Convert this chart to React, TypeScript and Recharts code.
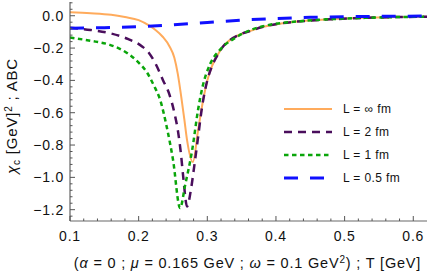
import React from 'react';
import { LineChart, Line, XAxis, YAxis, Legend } from 'recharts';

// T [GeV] samples and chi_c values, one pair of arrays per L
const tInf = [0.1, 0.13, 0.16, 0.18, 0.2, 0.215, 0.225, 0.235, 0.245, 0.252, 0.257, 0.262, 0.2665, 0.2705, 0.279, 0.2865, 0.294, 0.3, 0.307, 0.314, 0.323, 0.333, 0.348, 0.362, 0.38, 0.41, 0.44, 0.48, 0.53, 0.58, 0.62];
const chiInf = [0.022, 0.016, 0.006, -0.008, -0.027, -0.06, -0.09, -0.13, -0.19, -0.26, -0.36, -0.5, -0.64, -0.77, -0.905, -0.71, -0.52, -0.4, -0.31, -0.25, -0.19, -0.15, -0.115, -0.095, -0.07, -0.046, -0.033, -0.022, -0.013, -0.008, -0.006];

const tL2 = [0.1, 0.13, 0.16, 0.185, 0.205, 0.215, 0.225, 0.2356, 0.245, 0.252, 0.2575, 0.2615, 0.265, 0.2705, 0.276, 0.281, 0.286, 0.2925, 0.3, 0.307, 0.314, 0.323, 0.333, 0.348, 0.362, 0.38, 0.41, 0.44, 0.48, 0.53, 0.58, 0.62];
const chiL2 = [-0.075, -0.088, -0.11, -0.145, -0.19, -0.23, -0.3, -0.4, -0.49, -0.6, -0.72, -0.85, -1.0, -1.18, -1.08, -0.93, -0.77, -0.56, -0.4, -0.31, -0.25, -0.19, -0.15, -0.115, -0.095, -0.07, -0.046, -0.033, -0.022, -0.013, -0.008, -0.006];

const tL1 = [0.1, 0.13, 0.158, 0.183, 0.2, 0.212, 0.222, 0.232, 0.241, 0.25, 0.2604, 0.2676, 0.278, 0.2866, 0.2925, 0.304, 0.3187, 0.3434, 0.362, 0.38, 0.41, 0.44, 0.48, 0.53, 0.58, 0.62];
const chiL1 = [-0.135, -0.155, -0.18, -0.23, -0.29, -0.35, -0.43, -0.53, -0.69, -0.89, -1.19, -1.05, -0.83, -0.58, -0.45, -0.3, -0.21, -0.13, -0.09, -0.066, -0.044, -0.032, -0.021, -0.013, -0.008, -0.006];

const tL05 = [0.1, 0.15, 0.2, 0.25, 0.3, 0.35, 0.4, 0.45, 0.5, 0.55, 0.62];
const chiL05 = [-0.077, -0.074, -0.068, -0.056, -0.042, -0.027, -0.017, -0.01, -0.006, -0.004, -0.002];

const xMajor = [0.1, 0.2, 0.3, 0.4, 0.5, 0.6];
const xMinor = [0.12, 0.14, 0.16, 0.18, 0.22, 0.24, 0.26, 0.28, 0.32, 0.34, 0.36, 0.38, 0.42, 0.44, 0.46, 0.48, 0.52, 0.54, 0.56, 0.58];
const yMajor = [0, -0.2, -0.4, -0.6, -0.8, -1.0, -1.2];
const yMinor = [0.08, 0.04, -0.04, -0.08, -0.12, -0.16, -0.24, -0.28, -0.32, -0.36, -0.44, -0.48, -0.52, -0.56, -0.64, -0.68, -0.72, -0.76, -0.84, -0.88, -0.92, -0.96, -1.04, -1.08, -1.12, -1.16, -1.24];

const zip = (ts: number[], ys: number[]) => ts.map((T, i) => ({ T, chi: ys[i] }));

const series = [
  { name: 'L = \u221e fm', data: zip(tInf, chiInf), color: '#ffab5c', width: 2, dash: undefined },
  { name: 'L = 2 fm', data: zip(tL2, chiL2), color: '#4a0e5c', width: 2.5, dash: '8 6' },
  { name: 'L = 1 fm', data: zip(tL1, chiL1), color: '#0aa50a', width: 2.5, dash: '4.5 3.5' },
  { name: 'L = 0.5 fm', data: zip(tL05, chiL05), color: '#1010ff', width: 3, dash: '14 12' },
];

const FONT = '"Liberation Sans", Arial, sans-serif';
const TICK = '#555';
const SPACING = 0.8;
const isMajor = (list: number[], v: number) => list.some(m => Math.abs(m - v) < 1e-6);
const fmt = (v: number) => (v < 0 ? '\u2212' : '') + Math.abs(v).toFixed(1);

const makeTick = (side: 'bottom' | 'top' | 'left' | 'right', majors: number[]) => (props: any) => {
  const { x, y, payload } = props;
  const major = isMajor(majors, payload.value);
  const len = major ? 5 : 2.5;
  if (side === 'bottom') {
    return (
      <g>
        <line x1={x} x2={x} y1={y} y2={y - len} stroke={TICK} />
        {major && (
          <text x={x} y={y + 20} textAnchor="middle" fontSize={14} letterSpacing={SPACING} fontFamily={FONT} fill="#111">{fmt(payload.value)}</text>
        )}
      </g>
    );
  }
  if (side === 'top') return <line x1={x} x2={x} y1={y} y2={y + len} stroke={TICK} />;
  if (side === 'left') {
    return (
      <g>
        <line x1={x} x2={x + len} y1={y} y2={y} stroke={TICK} />
        {major && (
          <text x={x - 6} y={y + 5} textAnchor="end" fontSize={14} letterSpacing={SPACING} fontFamily={FONT} fill="#111">{fmt(payload.value)}</text>
        )}
      </g>
    );
  }
  return <line x1={x} x2={x - len} y1={y} y2={y} stroke={TICK} />;
};

const XLabel = (props: any) => {
  const { viewBox } = props;
  const cx = viewBox.x + viewBox.width / 2 - 1;
  return (
    <text x={cx} y={viewBox.y + 47} textAnchor="middle" fontSize={14.5} letterSpacing={SPACING} fontFamily={FONT} fill="#111">
      (<tspan fontStyle="italic">α</tspan> = 0 ; <tspan fontStyle="italic">μ</tspan> = 0.165 GeV ;{' '}
      <tspan fontStyle="italic">ω</tspan> = 0.1 GeV<tspan dy={-5} fontSize={10}>2</tspan>
      <tspan dy={5}>) ; T [GeV]</tspan>
    </text>
  );
};

const YLabel = () => (
  <text x={0} y={0} transform="translate(17,116) rotate(-90)" textAnchor="middle" fontSize={15} letterSpacing={SPACING} fontFamily={FONT} fill="#111">
    <tspan fontStyle="italic">χ</tspan>
    <tspan dy={3} fontSize={10}>c</tspan>
    <tspan dy={-3}> [GeV]</tspan>
    <tspan dy={-5} fontSize={10}>2</tspan>
    <tspan dy={5}> ; ABC</tspan>
  </text>
);

const LegendBox = () => (
  <div style={{ fontFamily: FONT, fontSize: 12, letterSpacing: 0.4, color: '#111' }}>
    {series.map(s => (
      <div key={s.name} style={{ display: 'flex', alignItems: 'center', height: 23 }}>
        <svg width={50} height={6} style={{ marginRight: 10 }}>
          <line x1={1} x2={49} y1={3} y2={3} stroke={s.color} strokeWidth={s.width} strokeDasharray={s.dash} />
        </svg>
        <span>{s.name}</span>
      </div>
    ))}
  </div>
);

export default function App() {
  const domX: [number, number] = [0.1, 0.62];
  const domY: [number, number] = [-1.27, 0.085];
  return (
    <div style={{ position: 'absolute', left: 0, top: 0, background: '#fff' }}>
      <LineChart width={436} height={275} margin={{ top: 2, right: 9, left: 0, bottom: 0 }}>
        <XAxis dataKey="T" type="number" domain={domX} allowDataOverflow ticks={[...xMajor, ...xMinor]} interval={0}
          height={54} tickSize={0} tickMargin={0} tick={makeTick('bottom', xMajor)} tickLine={false}
          axisLine={{ stroke: '#9a9a9a', strokeWidth: 1.5 }} label={<XLabel />} />
        <XAxis xAxisId="top" orientation="top" dataKey="T" type="number" domain={domX} allowDataOverflow
          ticks={[...xMajor, ...xMinor]} interval={0} height={0} tickSize={0} tickMargin={0}
          tick={makeTick('top', xMajor)} tickLine={false} axisLine={{ stroke: '#9a9a9a' }} />
        <YAxis type="number" domain={domY} allowDataOverflow ticks={[...yMajor, ...yMinor]} interval={0}
          width={70} tickSize={0} tickMargin={0} tick={makeTick('left', yMajor)} tickLine={false}
          axisLine={{ stroke: '#444' }} label={<YLabel />} />
        <YAxis yAxisId="right" orientation="right" type="number" domain={domY} allowDataOverflow
          ticks={[...yMajor, ...yMinor]} interval={0} width={0} tickSize={0} tickMargin={0}
          tick={makeTick('right', yMajor)} tickLine={false} axisLine={{ stroke: '#9a9a9a' }} />
        <Legend layout="vertical" align="center" verticalAlign="middle" content={<LegendBox />}
          wrapperStyle={{ left: 283, top: 97, width: 140 }} />
        {series.map(s => (
          <Line key={s.name} data={s.data} dataKey="chi" name={s.name} type="monotone" stroke={s.color}
            strokeWidth={s.width} strokeDasharray={s.dash} dot={false} activeDot={false}
            isAnimationActive={false} />
        ))}
      </LineChart>
    </div>
  );
}
